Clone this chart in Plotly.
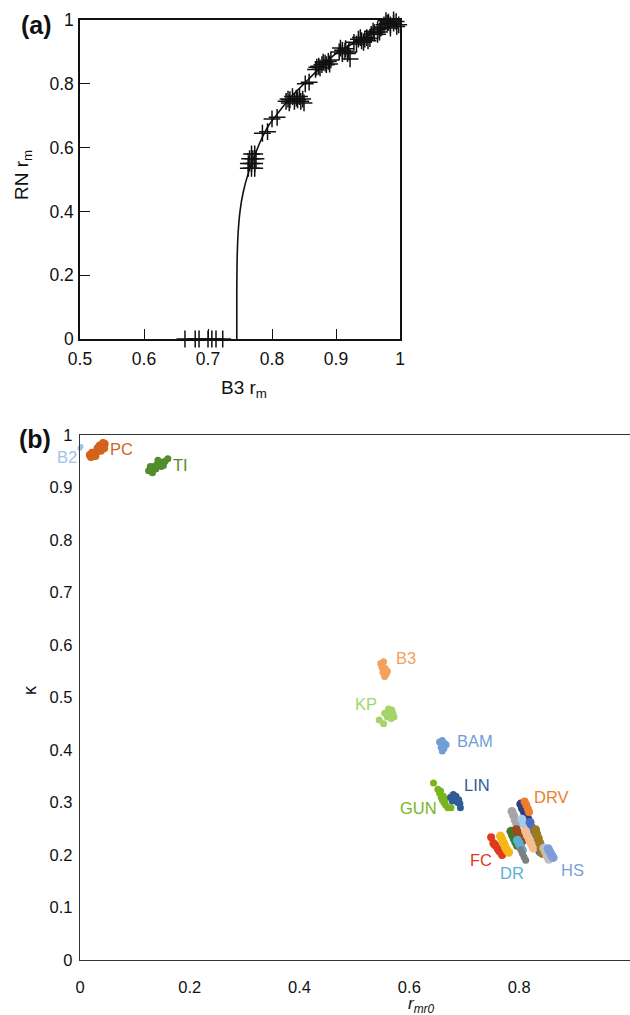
import plotly.graph_objects as go

# ---------------- Panel (a) data ----------------
a_pts_x = [0.664, 0.680, 0.686, 0.700, 0.706, 0.7125, 0.723,
           0.763, 0.768, 0.773, 0.763, 0.768, 0.773, 0.765, 0.770, 0.775, 0.768, 0.773,
           0.785, 0.793,
           0.800, 0.808,
           0.822, 0.828, 0.832, 0.835, 0.840, 0.845, 0.850, 0.827, 0.838, 0.843, 0.825, 0.848,
           0.852, 0.858,
           0.868, 0.873, 0.878, 0.883, 0.888, 0.875, 0.885, 0.892, 0.870, 0.880, 0.890,
           0.905, 0.910, 0.915, 0.920, 0.910, 0.918, 0.922, 0.907, 0.914,
           0.928, 0.935, 0.940, 0.945, 0.950, 0.932, 0.948, 0.938, 0.943, 0.953,
           0.955, 0.960, 0.965, 0.965, 0.970, 0.958, 0.968,
           0.975, 0.980, 0.985, 0.990, 0.995, 0.998, 0.985, 0.978, 0.990, 0.982, 0.994, 0.972]
a_pts_y = [0.0, 0.0, 0.0, 0.0, 0.0, 0.0, 0.0,
           0.535, 0.535, 0.535, 0.550, 0.550, 0.550, 0.565, 0.565, 0.565, 0.580, 0.580,
           0.645, 0.650,
           0.690, 0.695,
           0.745, 0.750, 0.760, 0.745, 0.750, 0.745, 0.740, 0.740, 0.755, 0.760, 0.752, 0.752,
           0.800, 0.805,
           0.845, 0.855, 0.860, 0.865, 0.870, 0.850, 0.860, 0.875, 0.852, 0.868, 0.862,
           0.900, 0.905, 0.910, 0.900, 0.895, 0.895, 0.878, 0.912, 0.902,
           0.930, 0.940, 0.935, 0.940, 0.935, 0.925, 0.945, 0.945, 0.930, 0.942,
           0.955, 0.960, 0.970, 0.955, 0.975, 0.965, 0.962,
           0.985, 0.990, 0.985, 0.990, 0.980, 0.985, 0.975, 0.998, 1.000, 0.993, 0.995, 0.978]

a_curve_x = [0.745, 0.745, 0.7455, 0.747, 0.750, 0.755, 0.763, 0.772, 0.782, 0.795,
             0.810, 0.830, 0.850, 0.875, 0.900, 0.930, 0.960, 1.000]
a_curve_y = [0.0, 0.15, 0.25, 0.33, 0.40, 0.46, 0.52, 0.57, 0.62, 0.67,
             0.71, 0.76, 0.80, 0.85, 0.895, 0.93, 0.96, 0.99]

a_xticks = [0.5, 0.6, 0.7, 0.8, 0.9, 1.0]
a_xticklabels = ["0.5", "0.6", "0.7", "0.8", "0.9", "1"]
a_yticks = [0, 0.2, 0.4, 0.6, 0.8, 1.0]
a_yticklabels = ["0", "0.2", "0.4", "0.6", "0.8", "1"]

# ---------------- Panel (b) data ----------------
B2_x = [0.000, 0.002]
B2_y = [0.975, 0.978]
PC_x = [0.020, 0.025, 0.030, 0.035, 0.040, 0.045, 0.028, 0.038, 0.042, 0.022, 0.032, 0.018, 0.036, 0.044]
PC_y = [0.958, 0.963, 0.968, 0.972, 0.978, 0.983, 0.960, 0.970, 0.985, 0.966, 0.975, 0.962, 0.980, 0.975]
TI_x = [0.125, 0.130, 0.135, 0.140, 0.145, 0.150, 0.155, 0.160, 0.128, 0.138, 0.148, 0.142, 0.132, 0.152]
TI_y = [0.932, 0.935, 0.940, 0.944, 0.945, 0.948, 0.950, 0.955, 0.940, 0.935, 0.940, 0.952, 0.928, 0.942]
B3_x = [0.548, 0.553, 0.550, 0.556, 0.552, 0.558, 0.555, 0.560]
B3_y = [0.565, 0.568, 0.558, 0.555, 0.548, 0.545, 0.540, 0.550]
KP_x = [0.555, 0.560, 0.565, 0.570, 0.560, 0.567, 0.572, 0.562, 0.568, 0.545, 0.553]
KP_y = [0.470, 0.472, 0.468, 0.470, 0.463, 0.460, 0.463, 0.478, 0.476, 0.457, 0.450]
BAM_x = [0.655, 0.660, 0.665, 0.658, 0.663, 0.660, 0.667]
BAM_y = [0.415, 0.418, 0.412, 0.405, 0.403, 0.398, 0.410]
GUN_x = [0.652, 0.655, 0.658, 0.660, 0.663, 0.666, 0.670, 0.657, 0.662, 0.665, 0.644, 0.676]
GUN_y = [0.325, 0.318, 0.310, 0.305, 0.300, 0.295, 0.290, 0.322, 0.312, 0.305, 0.337, 0.290]
LIN_x = [0.675, 0.680, 0.685, 0.683, 0.688, 0.692, 0.678, 0.690, 0.693]
LIN_y = [0.310, 0.315, 0.312, 0.305, 0.300, 0.298, 0.303, 0.305, 0.290]
FC_x = [0.753, 0.757, 0.761, 0.765, 0.769, 0.755, 0.763, 0.749]
FC_y = [0.223, 0.218, 0.212, 0.206, 0.200, 0.220, 0.209, 0.234]
YEL_x = [0.766, 0.769, 0.772, 0.775, 0.778, 0.781]
YEL_y = [0.236, 0.229, 0.222, 0.215, 0.209, 0.205]
DGR_x = [0.785, 0.788, 0.791, 0.794, 0.797]
DGR_y = [0.245, 0.238, 0.231, 0.224, 0.218]
LGRY_x = [0.787, 0.790, 0.793, 0.796]
LGRY_y = [0.283, 0.275, 0.266, 0.258]
NAVY_x = [0.803, 0.806, 0.810, 0.813, 0.816]
NAVY_y = [0.297, 0.289, 0.281, 0.273, 0.268]
DRV_x = [0.810, 0.813, 0.816, 0.818]
DRV_y = [0.302, 0.295, 0.288, 0.282]
LBL_x = [0.805, 0.809, 0.813, 0.817, 0.820, 0.824]
LBL_y = [0.268, 0.259, 0.250, 0.242, 0.234, 0.230]
MBL_x = [0.820, 0.823, 0.826, 0.829, 0.832, 0.835, 0.838]
MBL_y = [0.262, 0.252, 0.242, 0.232, 0.222, 0.212, 0.206]
BRN_x = [0.795, 0.799, 0.802, 0.806]
BRN_y = [0.248, 0.241, 0.234, 0.227]
DR_x = [0.797, 0.800, 0.803, 0.806]
DR_y = [0.228, 0.222, 0.215, 0.209]
DGRY_x = [0.803, 0.806, 0.809, 0.812]
DGRY_y = [0.210, 0.203, 0.196, 0.190]
PCH_x = [0.812, 0.815, 0.819, 0.822, 0.826]
PCH_y = [0.245, 0.237, 0.229, 0.221, 0.213]
OLV_x = [0.830, 0.832, 0.835, 0.838, 0.840, 0.842]
OLV_y = [0.248, 0.240, 0.232, 0.222, 0.212, 0.203]
SLV_x = [0.845, 0.848, 0.851, 0.854]
SLV_y = [0.213, 0.206, 0.199, 0.192]
HS_x = [0.853, 0.856, 0.859, 0.862]
HS_y = [0.212, 0.206, 0.200, 0.195]

b_ticks = [0, 0.2, 0.4, 0.6, 0.8, 1.0]
b_ticklabels = ["0", "0.2", "0.4", "0.6", "0.8", "1"]
b_yticks = [0, 0.1, 0.2, 0.3, 0.4, 0.5, 0.6, 0.7, 0.8, 0.9, 1.0]
b_yticklabels = ["0", "0.1", "0.2", "0.3", "0.4", "0.5", "0.6", "0.7", "0.8", "0.9", "1"]

# label text and position (pixel position in the figure)
b_labels = ["B2", "PC", "TI", "B3", "KP", "BAM", "LIN", "GUN", "DRV", "FC", "DR", "HS"]
b_label_px = [67, 121, 180, 406, 366, 475, 477, 418, 551, 481, 512, 572]
b_label_py = [457, 449, 465, 658, 704, 741, 785, 808, 797, 860, 873, 870]

colors = {
    "B2": "#9dc3e6", "PC": "#d4621a", "TI": "#548b2e", "B3": "#f4a15d", "KP": "#a5d46a",
    "BAM": "#6f9fd4", "GUN": "#7ab51d", "LIN": "#2f5c97", "FC": "#e03a1e", "YEL": "#f5b818",
    "DGR": "#44792b", "LGRY": "#a5a5a5", "NAVY": "#2f4080", "DRV": "#ee7d2e", "LBL": "#a8c9ea",
    "MBL": "#4a6ec0", "BRN": "#9b4a1c", "DR": "#5aafd9", "DGRY": "#7f7f7f", "PCH": "#f6be8f",
    "OLV": "#9c7b1e", "SLV": "#bfbfbf", "HS": "#7d9ed9",
}
clusters = [
    ("B2", B2_x, B2_y, 5), ("PC", PC_x, PC_y, 8), ("TI", TI_x, TI_y, 7),
    ("B3", B3_x, B3_y, 7), ("KP", KP_x, KP_y, 7), ("BAM", BAM_x, BAM_y, 7),
    ("GUN", GUN_x, GUN_y, 7), ("LIN", LIN_x, LIN_y, 7),
    ("FC", FC_x, FC_y, 8), ("YEL", YEL_x, YEL_y, 9), ("LGRY", LGRY_x, LGRY_y, 9),
    ("NAVY", NAVY_x, NAVY_y, 9), ("DRV", DRV_x, DRV_y, 8), ("DGR", DGR_x, DGR_y, 9),
    ("LBL", LBL_x, LBL_y, 9), ("BRN", BRN_x, BRN_y, 9), ("DR", DR_x, DR_y, 9),
    ("DGRY", DGRY_x, DGRY_y, 7), ("MBL", MBL_x, MBL_y, 9), ("PCH", PCH_x, PCH_y, 9),
    ("OLV", OLV_x, OLV_y, 9), ("SLV", SLV_x, SLV_y, 9), ("HS", HS_x, HS_y, 9),
]

FONT = "Liberation Sans, Arial, sans-serif"
W, H = 630, 1015

fig = go.Figure()

# panel (a)
fig.add_trace(go.Scatter(x=a_curve_x, y=a_curve_y, mode="lines",
                         line=dict(color="#111111", width=1.6, shape="spline", smoothing=0.6),
                         xaxis="x", yaxis="y", showlegend=False, hoverinfo="skip"))
fig.add_trace(go.Scatter(x=a_pts_x, y=a_pts_y, mode="markers",
                         marker=dict(symbol="cross-thin", size=12,
                                     line=dict(color="#111111", width=1.5)),
                         cliponaxis=False, xaxis="x", yaxis="y", showlegend=False))

# panel (b)
for name, xs, ys, sz in clusters:
    fig.add_trace(go.Scatter(x=xs, y=ys, mode="markers",
                             marker=dict(color=colors[name], size=sz, line=dict(width=0)),
                             cliponaxis=False, xaxis="x2", yaxis="y2", showlegend=False))


def px(xp):
    return xp / W


def py(yp):
    return 1 - yp / H


ann = []
for t, lx, ly in zip(b_labels, b_label_px, b_label_py):
    ann.append(dict(text=t, x=px(lx), y=py(ly), xref="paper", yref="paper", showarrow=False,
                    font=dict(family=FONT, size=16.5, color=colors[t]),
                    xanchor="center", yanchor="middle"))

ann += [
    dict(text="<b>(a)</b>", x=px(36), y=py(25), xref="paper", yref="paper", showarrow=False,
         font=dict(family=FONT, size=25, color="#111111"), xanchor="center", yanchor="middle"),
    dict(text="<b>(b)</b>", x=px(35), y=py(439), xref="paper", yref="paper", showarrow=False,
         font=dict(family=FONT, size=25, color="#111111"), xanchor="center", yanchor="middle"),
    dict(text="B3 r<sub>m</sub>", x=px(244), y=py(389), xref="paper", yref="paper", showarrow=False,
         font=dict(family=FONT, size=19, color="#111111"), xanchor="center", yanchor="middle"),
    dict(text="RN r<sub>m</sub>", x=px(23), y=py(175), xref="paper", yref="paper", showarrow=False,
         textangle=-90, font=dict(family=FONT, size=19, color="#111111"),
         xanchor="center", yanchor="middle"),
    dict(text="κ", x=px(30), y=py(690), xref="paper", yref="paper", showarrow=False,
         textangle=-90, font=dict(family=FONT, size=18, color="#111111"),
         xanchor="center", yanchor="middle"),
    dict(text="<i>r<sub>mr0</sub></i>", x=px(422), y=py(1005), xref="paper", yref="paper",
         showarrow=False, font=dict(family=FONT, size=17, color="#111111"),
         xanchor="center", yanchor="middle"),
]

fig.update_layout(
    template="none",
    width=W, height=H, margin=dict(l=0, r=0, t=0, b=0, pad=0, autoexpand=False),
    paper_bgcolor="white", plot_bgcolor="white",
    font=dict(family=FONT, color="#111111"),
    xaxis=dict(domain=[80 / W, 400 / W], anchor="y", range=[0.5, 1.0], automargin=False,
               tickvals=a_xticks, ticktext=a_xticklabels, ticks="inside", ticklen=10,
               tickcolor="#111111", tickwidth=1.2, ticklabelstandoff=3,
               showline=True, linecolor="#111111", linewidth=1.5, mirror=True,
               showgrid=False, zeroline=False, tickfont=dict(size=17.5, family=FONT)),
    yaxis=dict(domain=[1 - 339 / H, 1 - 20 / H], anchor="x", range=[0, 1.0], automargin=False,
               tickvals=a_yticks, ticktext=a_yticklabels, ticks="inside", ticklen=10,
               tickcolor="#111111", tickwidth=1.2, ticklabelstandoff=1,
               showline=True, linecolor="#111111", linewidth=1.5, mirror=True,
               showgrid=False, zeroline=False, tickfont=dict(size=17.5, family=FONT)),
    xaxis2=dict(domain=[80 / W, 1.0], anchor="y2", range=[0, 1.002], automargin=False,
                tickvals=b_ticks, ticktext=b_ticklabels, ticks="", ticklabelstandoff=12,
                showline=True, linecolor="#333333", linewidth=1.3, mirror=True,
                showgrid=False, zeroline=False, tickfont=dict(size=16.5, family=FONT)),
    yaxis2=dict(domain=[1 - 960 / H, 1 - 435 / H], anchor="x2", range=[0, 1.0], automargin=False,
                tickvals=b_yticks, ticktext=b_yticklabels, ticks="", ticklabelstandoff=3,
                showline=True, linecolor="#333333", linewidth=1.3,
                showgrid=False, zeroline=False, tickfont=dict(size=16.5, family=FONT)),
    annotations=ann,
)

fig.write_html("out.html")
